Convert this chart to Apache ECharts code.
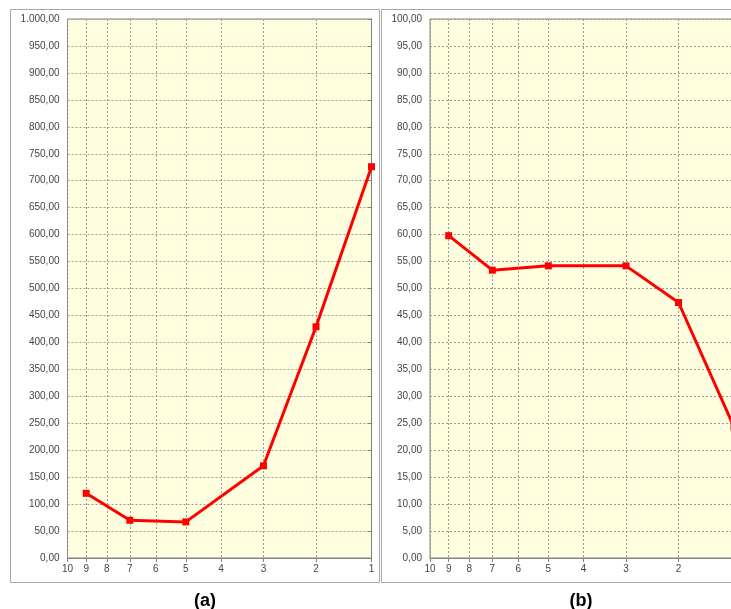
<!DOCTYPE html>
<html>
<head>
<meta charset="utf-8">
<script src="https://cdn.jsdelivr.net/npm/echarts@6/dist/echarts.min.js"></script>
<style>
html,body{margin:0;padding:0;background:#fff;}
#chart{width:731px;height:609px;}
</style>
</head>
<body>
<div id="chart"></div>
<script>
// ---- data ----
var xTicks = [10, 9, 8, 7, 6, 5, 4, 3, 2, 1];
var xPoints = [9, 7, 5, 3, 2, 1];
var seriesA = [120, 70, 67, 171, 429, 726];
var seriesB = [59.8, 53.4, 54.2, 54.2, 47.4, 24.3];
var captions = ['(a)', '(b)'];

// ---- x scale transform (axis spacing) ----
function tx(x) {
  var L = Math.log10(x);
  return Math.pow(L, 1.5) * (1 + 0.15 * (1 - L));
}
var tickVals = xTicks.map(tx);
function tickLabel(v) {
  var best = 0, bd = Infinity;
  for (var i = 0; i < tickVals.length; i++) {
    var d = Math.abs(tickVals[i] - v);
    if (d < bd) { bd = d; best = i; }
  }
  return String(xTicks[best]);
}

function deNum(v) {
  var s = Math.abs(v).toFixed(2).split('.');
  var intPart = s[0].replace(/\B(?=(\d{3})+(?!\d))/g, '.');
  return (v < 0 ? '-' : '') + intPart + ',' + s[1];
}

var gridCol = '#9a9a9a';
var axisCol = '#808080';
var labCol = '#444';
var font = 'Liberation Sans';

function xAxis(idx) {
  return {
    type: 'value', gridIndex: idx, min: 0, max: 1, inverse: true,
    axisLine: { show: true, lineStyle: { color: axisCol, width: 1 } },
    axisTick: { show: true, length: 4, customValues: tickVals, lineStyle: { color: axisCol } },
    axisLabel: { customValues: tickVals, color: labCol, fontFamily: font, fontSize: 10, margin: 6,
      formatter: function (v) { return tickLabel(v); } },
    splitLine: { show: true, lineStyle: { color: gridCol, type: [2, 2], width: 1 } }
  };
}
function yAxis(idx, max, interval) {
  return {
    type: 'value', gridIndex: idx, min: 0, max: max, interval: interval,
    axisLine: { show: true, lineStyle: { color: axisCol, width: 1 } },
    axisTick: { show: true, length: 4, lineStyle: { color: axisCol } },
    axisLabel: { color: labCol, fontFamily: font, fontSize: 10, margin: 8,
      formatter: function (v) { return deNum(v); } },
    splitLine: { show: true, lineStyle: { color: gridCol, type: [2, 2], width: 1 } }
  };
}

function pairs(vals) { return xPoints.map(function (x, i) { return [tx(x), vals[i]]; }); }

var lineCommon = {
  type: 'line', symbol: 'rect', symbolSize: 7, showSymbol: true,
  lineStyle: { color: '#ff0000', width: 3 }, itemStyle: { color: '#ff0000' },
  animation: false, clip: false
};

var gridCommon = { top: 19, width: 304, height: 539, show: true, backgroundColor: '#ffffe0',
  borderColor: axisCol, borderWidth: 1, containLabel: false, outerBoundsMode: 'none' };

var chart = echarts.init(document.getElementById('chart'), null, { renderer: 'canvas' });
chart.setOption({
  animation: false,
  backgroundColor: '#ffffff',
  grid: [
    Object.assign({ left: 67.5 }, gridCommon),
    Object.assign({ left: 430 }, gridCommon)
  ],
  xAxis: [xAxis(0), xAxis(1)],
  yAxis: [yAxis(0, 1000, 50), yAxis(1, 100, 5)],
  series: [
    Object.assign({}, lineCommon, { xAxisIndex: 0, yAxisIndex: 0, data: pairs(seriesA) }),
    Object.assign({}, lineCommon, { xAxisIndex: 1, yAxisIndex: 1, data: pairs(seriesB) })
  ],
  graphic: [
    { type: 'rect', shape: { x: 10.5, y: 9.5, width: 369, height: 573 }, style: { fill: null, stroke: '#a8a8a8', lineWidth: 1 }, z: -1 },
    { type: 'rect', shape: { x: 381.5, y: 9.5, width: 369, height: 573 }, style: { fill: null, stroke: '#a8a8a8', lineWidth: 1 }, z: -1 },
    { type: 'text', x: 205, y: 601, style: { text: captions[0], font: 'bold 18px "Liberation Sans"', fill: '#000', align: 'center', verticalAlign: 'middle' } },
    { type: 'text', x: 581, y: 601, style: { text: captions[1], font: 'bold 18px "Liberation Sans"', fill: '#000', align: 'center', verticalAlign: 'middle' } }
  ]
});
</script>
</body>
</html>
